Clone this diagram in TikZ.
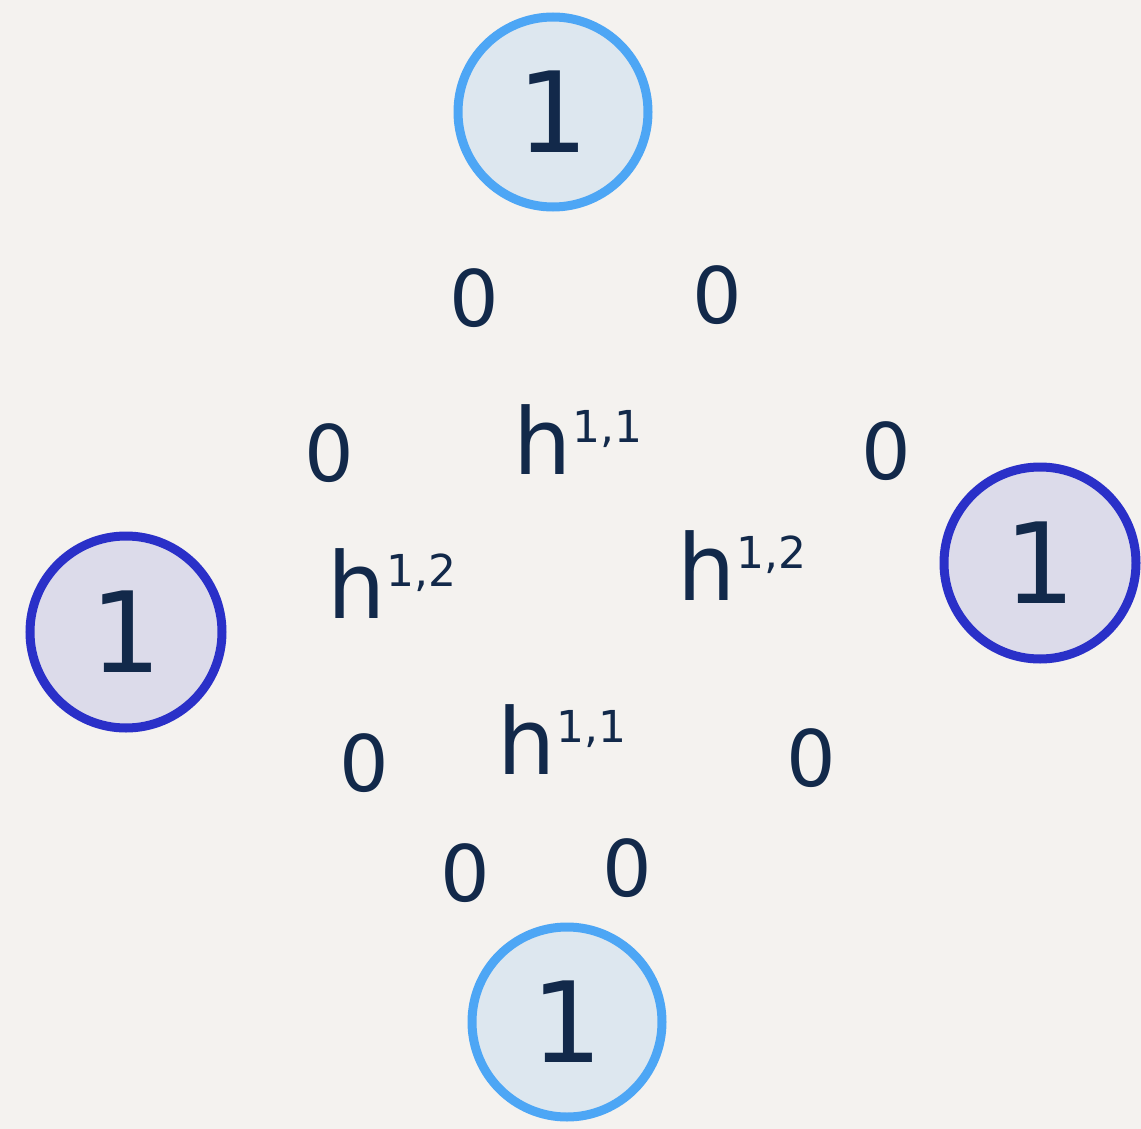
\documentclass[tikz,border=0pt]{standalone}
\usepackage{fontspec}
\setmainfont{DejaVu Sans}
\definecolor{bg}{HTML}{F4F2EF}
\definecolor{ink}{HTML}{12294A}
\definecolor{lblue}{HTML}{4DA6F5}
\definecolor{lfill}{HTML}{DDE7EF}
\definecolor{dblue}{HTML}{2A30C8}
\definecolor{dfill}{HTML}{DCDBEA}
\newcommand{\hodgeterm}[1]{h\raisebox{32pt}{\fontsize{44}{44}\selectfont #1}}
\begin{document}
\begin{tikzpicture}[x=1pt,y=-1pt,
  onelight/.style={circle,draw=lblue,fill=lfill,line width=9pt,minimum size=190pt,inner sep=0pt,text=ink,font=\fontsize{112}{112}\selectfont},
  onedark/.style={circle,draw=dblue,fill=dfill,line width=9pt,minimum size=192pt,inner sep=0pt,text=ink,font=\fontsize{112}{112}\selectfont},
  zero/.style={text=ink,inner sep=0pt,font=\fontsize{78}{78}\selectfont},
  hodge/.style={text=ink,inner sep=0pt,font=\fontsize{92}{92}\selectfont}]
\fill[bg] (0,0) rectangle (1141,1129);
\useasboundingbox (0,0) rectangle (1141,1129);
\node[onelight] (top) at (553,112) {1};
\node[onelight] (bottom) at (567,1022) {1};
\node[onedark] (left) at (126,632) {1};
\node[onedark] (right) at (1040,563) {1};
\node[zero] (z1) at (474,298) {0};
\node[zero] (z2) at (717,295) {0};
\node[zero] (z3) at (329,453) {0};
\node[zero] (z4) at (886,451) {0};
\node[zero] (z5) at (364,763) {0};
\node[zero] (z6) at (811,758) {0};
\node[zero] (z7) at (465,873) {0};
\node[zero] (z8) at (627,868) {0};
\node[hodge] (h11t) at (578,440) {\hodgeterm{1,1}};
\node[hodge] (h12l) at (392,584) {\hodgeterm{1,2}};
\node[hodge] (h12r) at (742,566) {\hodgeterm{1,2}};
\node[hodge] (h11b) at (562,740) {\hodgeterm{1,1}};
\end{tikzpicture}
\end{document}
